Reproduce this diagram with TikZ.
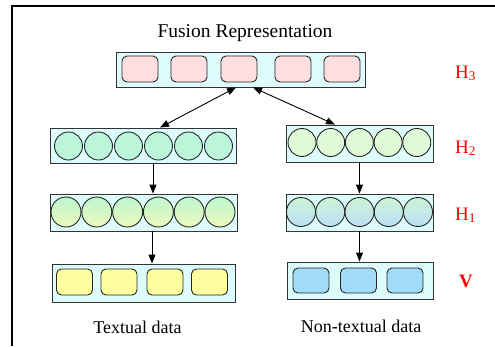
\documentclass[tikz,border=0pt]{standalone}
\usepackage{fontspec}
\setmainfont{Liberation Serif}
\usetikzlibrary{arrows.meta}
\definecolor{boxfill}{RGB}{222,252,252}
\definecolor{pinkfill}{RGB}{255,222,224}
\definecolor{mint}{RGB}{188,246,218}
\definecolor{palegreen}{RGB}{222,250,214}
\definecolor{gtop}{RGB}{190,246,206}
\definecolor{ybot}{RGB}{236,250,190}
\definecolor{btop}{RGB}{204,244,214}
\definecolor{bbot}{RGB}{188,222,246}
\definecolor{yellowfill}{RGB}{255,255,160}
\definecolor{bluefill}{RGB}{160,220,248}
\definecolor{lblred}{RGB}{255,0,0}
\begin{document}
\begin{tikzpicture}[x=1pt,y=-1pt,
  layer/.style={draw=black!80,fill=boxfill,line width=0.9pt,inner sep=0pt},
  unit/.style={draw=black!85,line width=0.9pt,rounded corners=5pt,inner sep=0pt,minimum width=36pt,minimum height=26pt},
  neuron/.style={circle,draw=black!85,line width=0.9pt,inner sep=0pt},
  arr/.style={line width=0.9pt,-{Triangle[length=9pt,width=7pt]}},
  darr/.style={line width=0.9pt,{Triangle[length=9pt,width=7pt]}-{Triangle[length=9pt,width=7pt]}},
  hlabel/.style={text=lblred,font=\fontsize{19}{22}\selectfont,anchor=base west,inner sep=0pt},
  caption/.style={font=\fontsize{18}{21}\selectfont,anchor=base,inner sep=0pt}]
\useasboundingbox (0,0) rectangle (495,346);
\draw[line width=2pt] (12,346) -- (12,6) -- (495,6);

% title
\node[caption,font=\fontsize{19.5}{23}\selectfont] (title) at (245,37) {Fusion Representation};

% H3
\node[layer,minimum width=249pt,minimum height=35pt] (h3) at (240.5,69.5) {};
\foreach \x [count=\i] in {140,189,239,293,342}
  \node[unit,fill=pinkfill] (p\i) at (\x,69) {};

% H2 left
\node[layer,minimum width=186pt,minimum height=35pt] (h2l) at (143,145.5) {};
\foreach \i in {0,...,5}
  \node[neuron,fill=mint,minimum size=28pt] (a\i) at (68.5+30*\i,146) {};

% H2 right
\node[layer,minimum width=147pt,minimum height=37pt] (h2r) at (359.5,143.5) {};
\foreach \i in {0,...,4}
  \node[neuron,fill=palegreen,minimum size=28pt] (b\i) at (302+28.7*\i,142.5) {};

% H1 left
\node[layer,minimum width=187pt,minimum height=37pt] (h1l) at (143.5,212.5) {};
\foreach \i in {0,...,5}
  \node[neuron,top color=gtop,bottom color=ybot,minimum size=30pt] (c\i) at (66+30.8*\i,212) {};

% H1 right
\node[layer,minimum width=147pt,minimum height=37pt] (h1r) at (359.5,212.5) {};
\foreach \i in {0,...,4}
  \node[neuron,top color=btop,bottom color=bbot,minimum size=29pt] (d\i) at (301+29.25*\i,212) {};

% V left
\node[layer,minimum width=183pt,minimum height=38pt] (vl) at (143.5,283) {};
\foreach \x [count=\i] in {74.5,119,165,209.5}
  \node[unit,fill=yellowfill] (y\i) at (\x,282) {};

% V right
\node[layer,minimum width=146pt,minimum height=37pt] (vr) at (360,280.5) {};
\foreach \x [count=\i] in {311,358.5,405}
  \node[unit,fill=bluefill,minimum height=25pt] (z\i) at (\x,280.5) {};

% labels
\node[hlabel] (lh3) at (455,78) {H\textsubscript{3}};
\node[hlabel] (lh2) at (455,153) {H\textsubscript{2}};
\node[hlabel] (lh1) at (455,220) {H\textsubscript{1}};
\node[hlabel,font=\fontsize{19}{22}\selectfont\bfseries] (lv) at (459,287) {V};

\node[caption] (tl) at (137.5,333) {Textual data};
\node[caption] (tr) at (361,332) {Non-textual data};

% arrows
\draw[darr] ([xshift=-4.5pt]h3.south) -- ([xshift=17pt]h2l.north);
\draw[darr] ([xshift=12.5pt]h3.south) -- ([xshift=-24.5pt]h2r.north);
\draw[arr] ([xshift=10pt]h2l.south) -- ([xshift=10pt]h2l.south |- h1l.north);
\draw[arr] (h2r.south) -- (h2r.south |- h1r.north);
\draw[arr] ([xshift=8.5pt]h1l.south) -- ([xshift=8.5pt]h1l.south |- vl.north);
\draw[arr] (h1r.south) -- (h1r.south |- vr.north);
\end{tikzpicture}
\end{document}
